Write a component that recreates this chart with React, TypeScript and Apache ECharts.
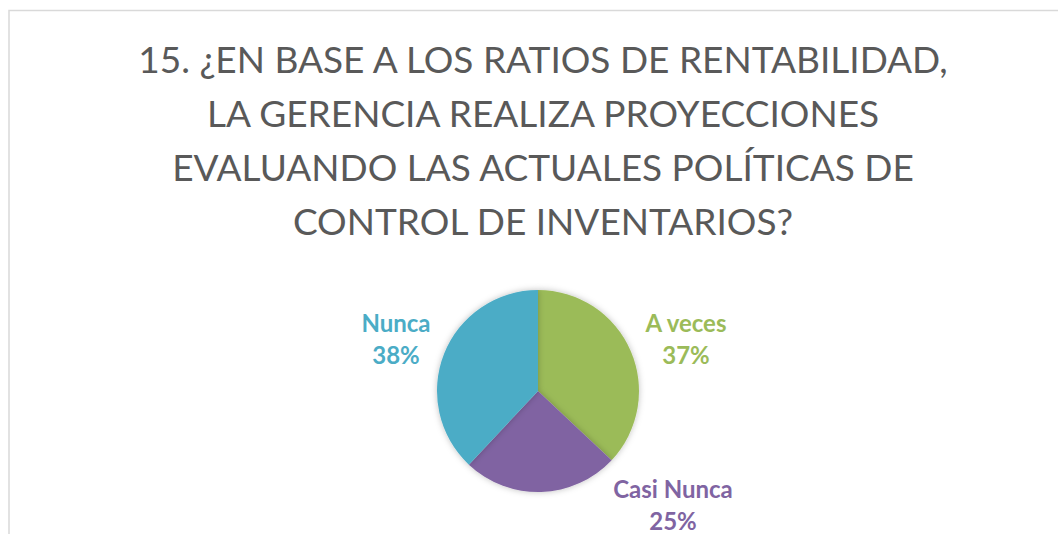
import React, { useEffect, useRef } from "react";
import * as echarts from "echarts";

const titleLines = [
  "15. ¿EN BASE A LOS RATIOS DE RENTABILIDAD,",
  "LA GERENCIA REALIZA PROYECCIONES",
  "EVALUANDO LAS ACTUALES POLÍTICAS DE",
  "CONTROL DE INVENTARIOS?",
];
const categories = ["A veces", "Casi Nunca", "Nunca"];
const values = [37, 25, 38];
const colors = ["#9BBB59", "#8064A2", "#4BACC6"];
// label anchor positions (layout only)
const labelAnchors = [
  [686, 338],
  [673, 504],
  [396, 338],
];

export default function App() {
  const ref = useRef<HTMLDivElement>(null);
  useEffect(() => {
    if (!ref.current) return;
    const chart = echarts.init(ref.current, null, { renderer: "svg" });
    chart.setOption({
      animation: false,
      backgroundColor: "#ffffff",
      title: {
        text: titleLines.join("\n"),
        left: 538,
        top: 26,
        textAlign: "center",
        textStyle: {
          fontFamily: "Lato",
          fontSize: 37,
          fontWeight: "normal",
          color: "#595959",
          lineHeight: 54,
        },
      },
      graphic: [
        {
          type: "rect",
          shape: { x: 9, y: 10.5, width: 1200, height: 700 },
          style: { fill: "none", stroke: "#D9D9D9", lineWidth: 1.5 },
          silent: true,
        },
      ],
      series: [
        {
          type: "pie",
          center: [538, 391],
          radius: 101,
          startAngle: 90,
          clockwise: true,
          itemStyle: {
            shadowBlur: 6,
            shadowColor: "rgba(0,0,0,0.25)",
          },
          label: {
            show: true,
            position: "outside",
            formatter: "{b}\n{d}%",
            fontFamily: "Lato",
            fontWeight: "bold",
            fontSize: 24,
            lineHeight: 32,
          },
          labelLine: { show: false },
          labelLayout: (params: any) => ({
            x: labelAnchors[params.dataIndex][0],
            y: labelAnchors[params.dataIndex][1],
            align: "center",
            verticalAlign: "middle",
          }),
          data: categories.map((name, i) => ({
            name,
            value: values[i],
            itemStyle: { color: colors[i] },
            label: { color: colors[i] },
          })),
        },
      ],
    });
    return () => chart.dispose();
  }, []);
  return (
    <div
      ref={ref}
      style={{ position: "fixed", left: 0, top: 0, width: 1058, height: 534 }}
    />
  );
}
